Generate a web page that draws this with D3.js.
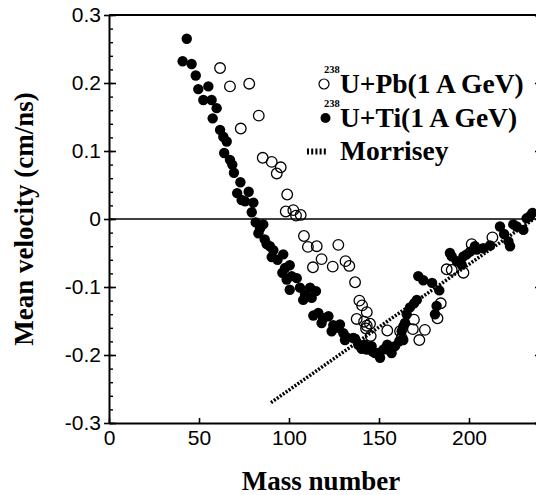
<html>
<head><meta charset="utf-8"></head>
<script src="https://d3js.org/d3.v7.min.js"></script>
<style>
body{margin:0;background:#fff;}
.tick text{font-family:"Liberation Sans",Arial,sans-serif;font-size:21px;fill:#000;}
.ttl{font-family:"Liberation Serif","Times New Roman",serif;font-weight:bold;fill:#000;}
</style>
<body>
<script>
// U+Pb (open circles) and U+Ti (filled circles): [mass number, mean velocity cm/ns]
const uPb = [[61.7,0.222],[67.2,0.195],[77.9,0.199],[73.2,0.133],[83.2,0.152],[85.4,0.090],[90.4,0.084],
  [95.4,0.076],[93.2,0.067],[99.0,0.036],[98.2,0.011],[102.4,0.013],[103.9,0.005],[106.5,0.006],
  [108.3,-0.025],[110.5,-0.041],[115.4,-0.040],[127.4,-0.038],[118.1,-0.059],[113.3,-0.071],
  [124.3,-0.070],[131.4,-0.062],[133.5,-0.069],[136.7,-0.093],[139.1,-0.120],[140.6,-0.127],
  [143.2,-0.137],[137.6,-0.147],[141.7,-0.151],[143.2,-0.157],[145.0,-0.154],[142.8,-0.161],
  [145.4,-0.172],[154.6,-0.164],[161.7,-0.165],[162.6,-0.175],[169.4,-0.148],[168.8,-0.162],
  [175.5,-0.163],[172.4,-0.178],[184.3,-0.124],[182.5,-0.146],[187.6,-0.074],[190.4,-0.075],
  [196.9,-0.079],[201.5,-0.037],[213.0,-0.027]];
const uTi = [[43.2,0.265],[40.9,0.232],[45.9,0.228],[48.2,0.211],[49.6,0.191],[55.2,0.195],[52.4,0.175],
  [57.0,0.175],[59.8,0.163],[57.6,0.148],[61.7,0.131],[63.5,0.121],[65.4,0.114],[64.0,0.097],
  [67.2,0.087],[68.5,0.080],[69.4,0.068],[73.0,0.054],[71.2,0.038],[77.6,0.040],[75.6,0.026],
  [73.7,0.028],[80.2,0.024],[79.3,0.010],[81.5,-0.005],[85.7,-0.008],[83.9,-0.014],[83.0,-0.021],
  [86.5,-0.030],[87.6,-0.037],[89.4,-0.040],[91.3,-0.046],[90.4,-0.056],[96.8,-0.052],[93.6,-0.060],
  [100.4,-0.068],[97.8,-0.072],[96.3,-0.079],[101.5,-0.084],[98.7,-0.089],[104.3,-0.087],
  [100.4,-0.104],[106.1,-0.101],[108.9,-0.111],[107.9,-0.119],[112.6,-0.116],[115.0,-0.106],
  [111.7,-0.101],[113.5,-0.142],[116.3,-0.138],[119.1,-0.146],[121.9,-0.143],[118.1,-0.153],
  [124.6,-0.156],[128.3,-0.155],[123.7,-0.165],[127.4,-0.160],[130.2,-0.168],[132.0,-0.174],
  [131.1,-0.178],[135.7,-0.175],[136.7,-0.176],[138.5,-0.185],[140.4,-0.191],[142.0,-0.185],
  [143.2,-0.192],[145.9,-0.187],[146.5,-0.195],[147.8,-0.197],[149.6,-0.197],[150.6,-0.204],
  [152.4,-0.192],[154.6,-0.185],[155.2,-0.192],[157.0,-0.197],[158.9,-0.187],[161.2,-0.180],
  [163.5,-0.178],[162.6,-0.165],[163.5,-0.158],[164.4,-0.153],[165.4,-0.140],[167.2,-0.130],
  [169.5,-0.124],[171.0,-0.119],[171.8,-0.084],[174.6,-0.090],[179.5,-0.094],[183.5,-0.105],
  [182.0,-0.128],[181.1,-0.140],[189.4,-0.050],[190.4,-0.055],[193.2,-0.062],[195.9,-0.067],
  [196.9,-0.055],[198.7,-0.052],[200.6,-0.048],[203.3,-0.040],[204.3,-0.045],[207.9,-0.043],
  [211.7,-0.039],[217.2,-0.011],[219.5,-0.022],[221.9,-0.033],[222.8,-0.040],[224.6,-0.008],
  [226.5,-0.011],[230.2,-0.016],[232.0,0.001],[233.9,0.004],[235.2,0.009]];
// Morrisey systematics (straight line)
const morrisey = [[90,-0.27],[236,0.0]];

const xTicks = [0, 50, 100, 150, 200];
const yTicks = [-0.3, -0.2, -0.1, 0, 0.1, 0.2, 0.3];
const yMinor = d3.range(-0.3, 0.3001, 0.02);

const W = 536, H = 495;
const svg = d3.select("body").append("svg").attr("width", W).attr("height", H);

const x = d3.scaleLinear().domain([0, 240]).range([109, 541]);
const y = d3.scaleLinear().domain([-0.3, 0.3]).range([423, 15]);
const fmtY = d => Math.abs(d) < 1e-9 ? "0" : d.toFixed(1);
const fmtX = d => String(d);

// frame
svg.append("line").attr("x1", x(0)).attr("x2", x(240)).attr("y1", y(0.3)).attr("y2", y(0.3))
  .attr("stroke", "#000").attr("stroke-width", 2);
svg.append("line").attr("x1", x(0)).attr("x2", x(240)).attr("y1", y(0)).attr("y2", y(0))
  .attr("stroke", "#000").attr("stroke-width", 1.6);

// left axis: labels + outward tick part
let gl = svg.append("g").attr("transform", `translate(${x(0)},0)`)
  .call(d3.axisLeft(y).tickValues(yTicks).tickFormat(fmtY).tickSizeInner(5).tickSizeOuter(0).tickPadding(3));
gl.select(".domain").attr("stroke-width", 2);
gl.selectAll(".tick line").attr("stroke-width", 1.6);
// inward ticks
svg.append("g").attr("transform", `translate(${x(0)},0)`)
  .call(d3.axisLeft(y).tickValues(yTicks).tickFormat("").tickSize(-7))
  .call(g => g.select(".domain").remove())
  .selectAll(".tick line").attr("stroke-width", 1.6);
svg.append("g").attr("transform", `translate(${x(0)},0)`)
  .call(d3.axisLeft(y).tickValues(yMinor).tickFormat("").tickSize(-4))
  .call(g => g.select(".domain").remove())
  .selectAll(".tick line").attr("stroke-width", 1.4);

// right axis (mostly outside window)
svg.append("g").attr("transform", `translate(${x(240)},0)`)
  .call(d3.axisRight(y).tickValues(yTicks).tickFormat("").tickSize(-6))
  .call(g => g.select(".domain").attr("stroke-width", 2))
  .selectAll(".tick line").attr("stroke-width", 1.6);

// bottom axis
let gb = svg.append("g").attr("transform", `translate(0,${y(-0.3)})`)
  .call(d3.axisBottom(x).tickValues(xTicks).tickFormat(fmtX).tickSizeInner(-5).tickSizeOuter(0).tickPadding(7));
gb.select(".domain").attr("stroke-width", 2);
gb.selectAll(".tick line").attr("stroke-width", 1.6);

// Morrisey line
const line = d3.line().x(d => x(d[0])).y(d => y(d[1]));
svg.append("path").datum(morrisey).attr("d", line)
  .attr("fill", "none").attr("stroke", "#000").attr("stroke-width", 3.5).attr("stroke-dasharray", "2,1.6");

// points
svg.append("g").selectAll("circle").data(uTi).join("circle")
  .attr("cx", d => x(d[0])).attr("cy", d => y(d[1])).attr("r", 5.2).attr("fill", "#000");
svg.append("g").selectAll("circle").data(uPb).join("circle")
  .attr("cx", d => x(d[0])).attr("cy", d => y(d[1])).attr("r", 5.3)
  .attr("fill", "none").attr("stroke", "#000").attr("stroke-width", 1.3);

// axis titles
svg.append("text").attr("class", "ttl").attr("x", 321).attr("y", 490)
  .attr("text-anchor", "middle").attr("font-size", 27).text("Mass number");
svg.append("text").attr("class", "ttl").attr("transform", `translate(33,${y(0)}) rotate(-90)`)
  .attr("text-anchor", "middle").attr("font-size", 27).text("Mean velocity (cm/ns)");

// legend
const leg = svg.append("g");
const rows = [
  {t: "U+Pb(1 A GeV)", sym: "open", yy: 93},
  {t: "U+Ti(1 A GeV)", sym: "fill", yy: 127},
  {t: "Morrisey", sym: "line", yy: 160}
];
rows.forEach(r => {
  if (r.sym === "open") {
    leg.append("circle").attr("cx", 324).attr("cy", r.yy - 9).attr("r", 5)
      .attr("fill", "none").attr("stroke", "#000").attr("stroke-width", 1.2);
  } else if (r.sym === "fill") {
    leg.append("circle").attr("cx", 325.5).attr("cy", r.yy - 9).attr("r", 5).attr("fill", "#000");
  } else {
    leg.append("line").attr("x1", 307).attr("x2", 327).attr("y1", r.yy - 8.5).attr("y2", r.yy - 8.5)
      .attr("stroke", "#000").attr("stroke-width", 6).attr("stroke-dasharray", "2,2.2");
  }
  if (r.sym !== "line") {
    leg.append("text").attr("class", "ttl").attr("x", 324).attr("y", r.yy - 20)
      .attr("font-size", 10.5).text("238");
  }
  leg.append("text").attr("class", "ttl").attr("x", 340).attr("y", r.yy)
    .attr("font-size", 27.5).text(r.t);
});
</script>
</body>
</html>
